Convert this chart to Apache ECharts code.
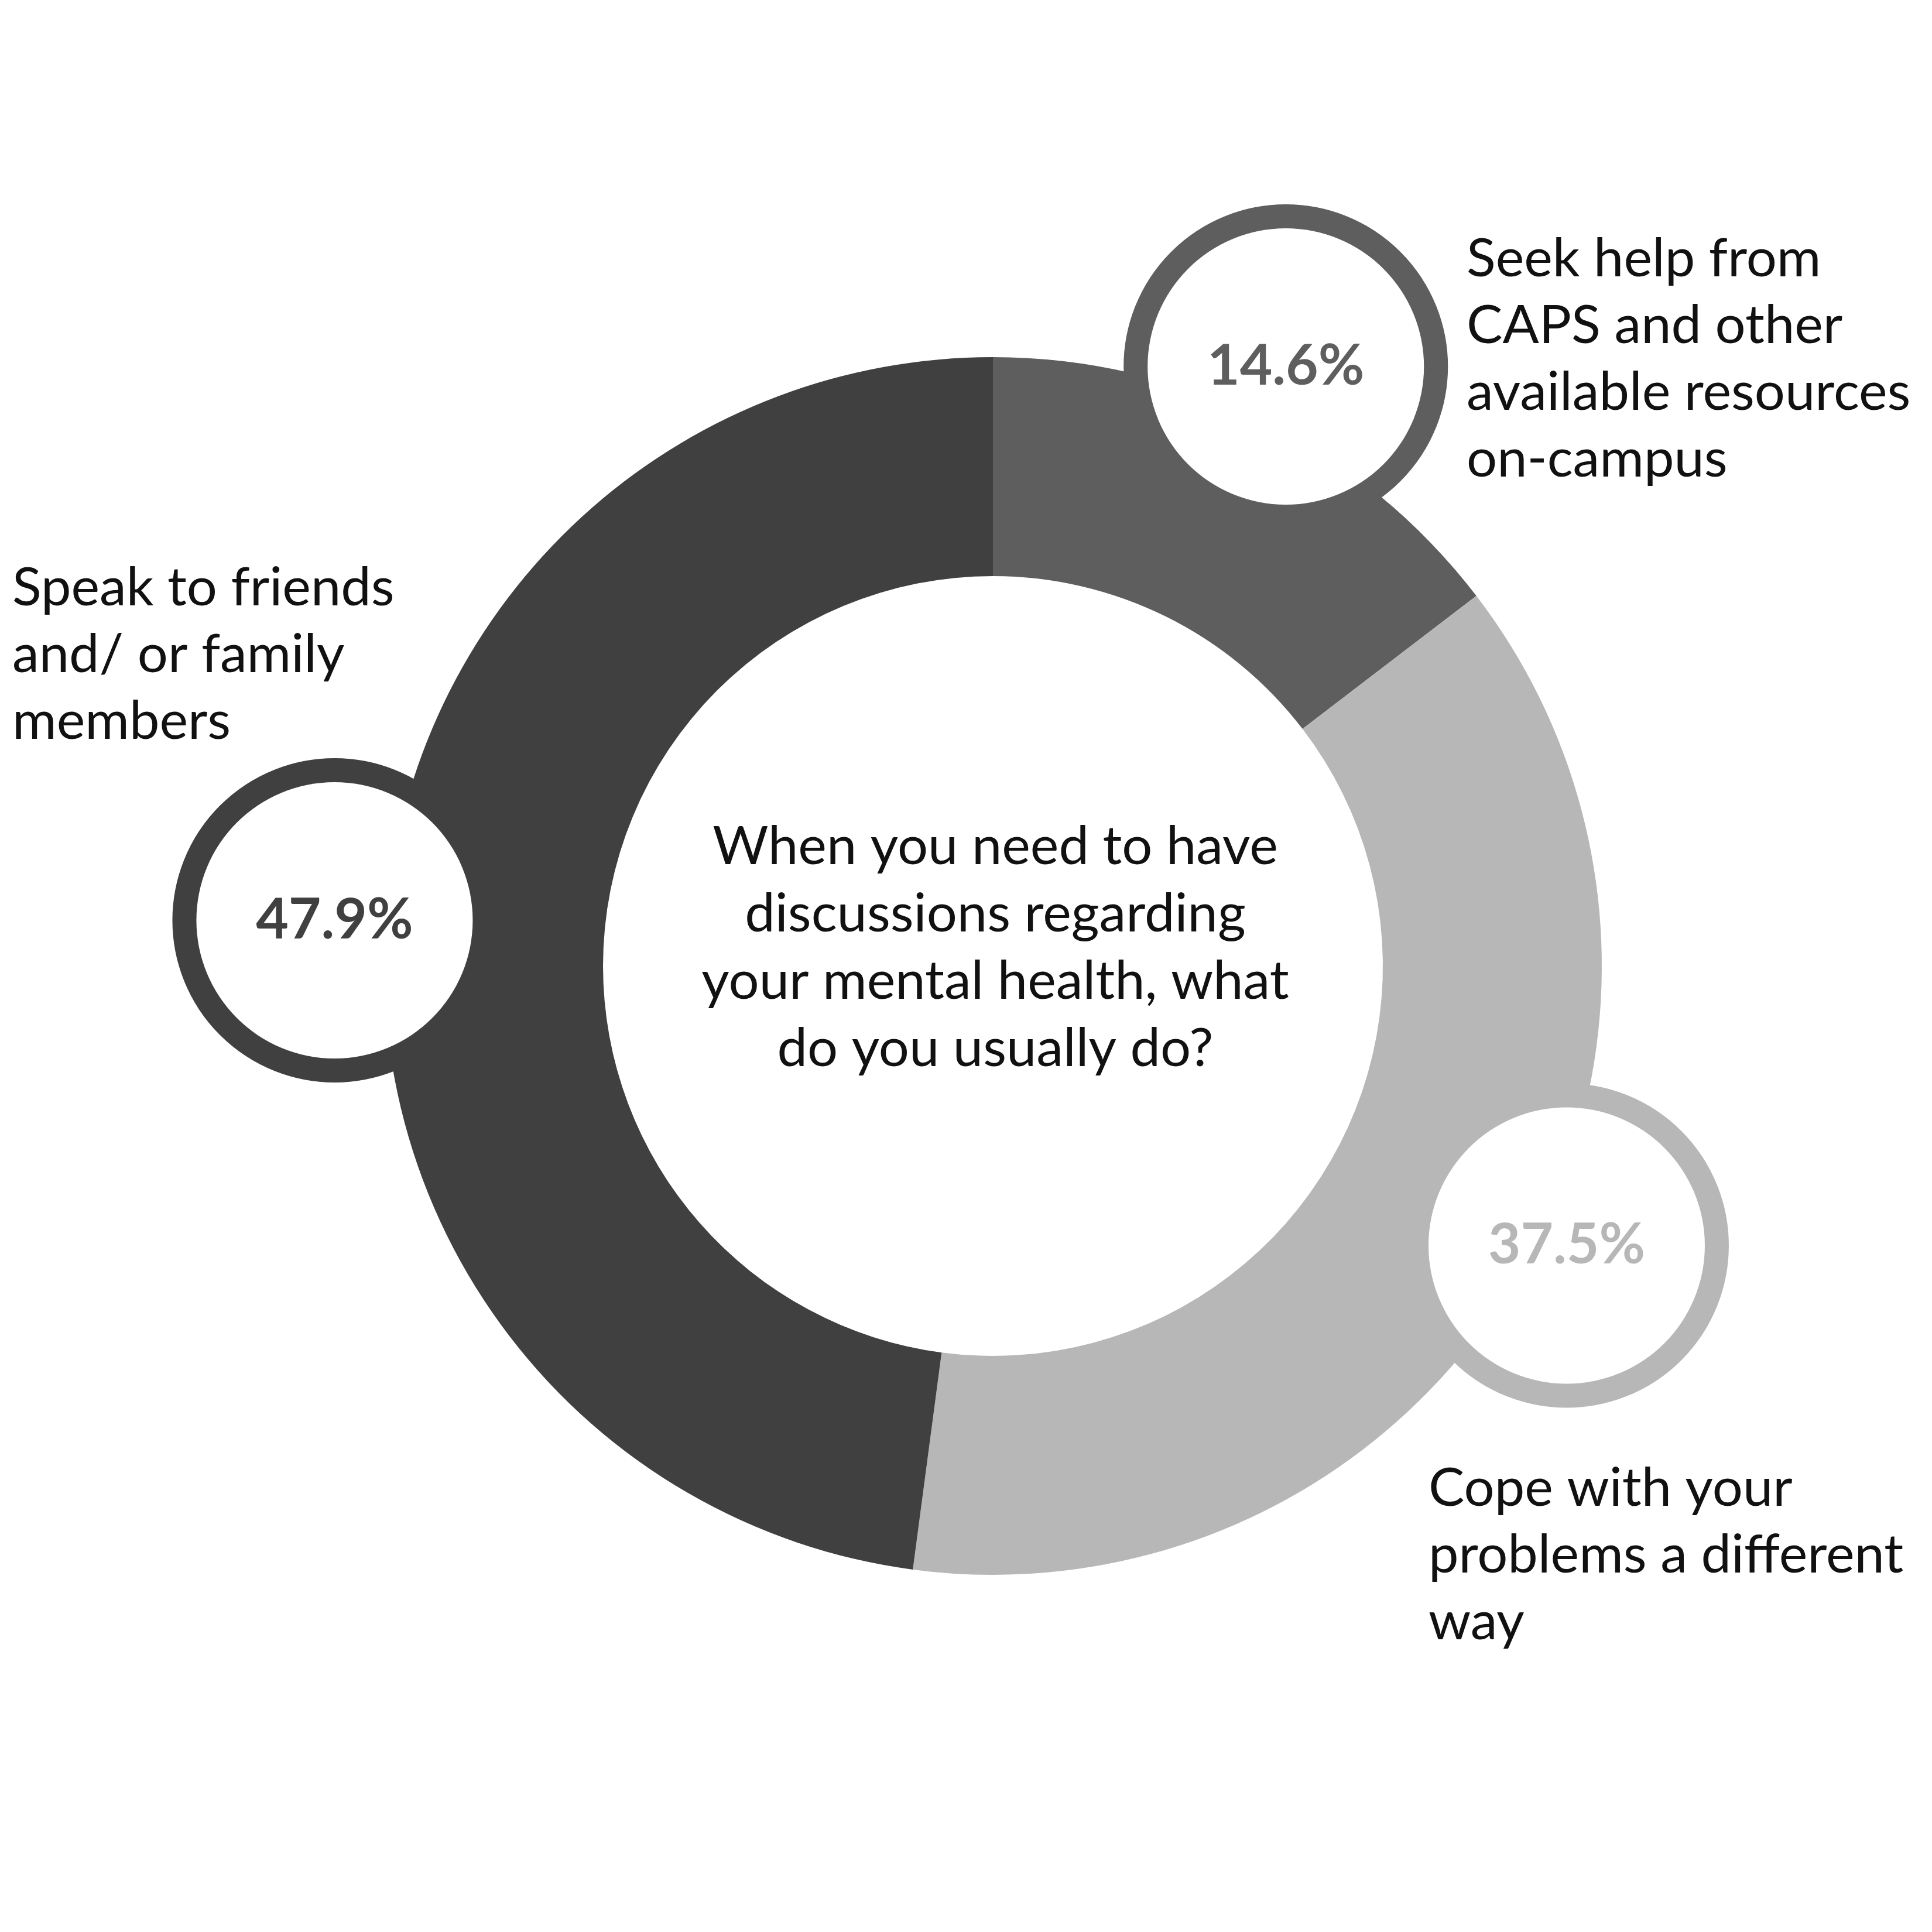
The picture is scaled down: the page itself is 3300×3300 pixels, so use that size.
<!DOCTYPE html>
<html>
<head>
<meta charset="utf-8">
<script src="https://cdn.jsdelivr.net/npm/echarts@6/dist/echarts.min.js"></script>
<style>
html,body{margin:0;padding:0;background:#fff;}
#chart{width:3300px;height:3300px;}
</style>
</head>
<body>
<div id="chart"></div>
<script>
// ---- data ----
const categories = [
  'Seek help from\nCAPS and other\navailable resources\non-campus',
  'Cope with your\nproblems a different\nway',
  'Speak to friends\nand/ or family\nmembers'
];
const values = [14.6, 37.5, 47.9];
const colors = ['#5e5e5e', '#b7b7b7', '#404040'];
const question = 'When you need to have\ndiscussions regarding\nyour mental health, what\ndo you usually do?';

// ---- styling / layout ----
const FONT = 'Lato';
const CENTER = [1696, 1650];
const circleNudge = [[3, -17], [8, -85], [-4, -4]];
const catPos = [
  { left: 2505, top: 385 },
  { left: 2440, top: 2485 },
  { left: 21, top: 947 }
];

const chart = echarts.init(document.getElementById('chart'), null, { renderer: 'canvas' });

const titles = categories.map((c, i) => ({
  text: c,
  left: catPos[i].left,
  top: catPos[i].top,
  padding: 0,
  textStyle: { fontFamily: FONT, fontWeight: 'normal', fontSize: 92, lineHeight: 114, color: '#111' }
}));
titles.push({
  text: question,
  left: 1700,
  top: 1389,
  padding: 0,
  textAlign: 'center',
  textStyle: { fontFamily: FONT, fontWeight: 'normal', fontSize: 92, lineHeight: 115, color: '#111' }
});

const option = {
  backgroundColor: '#ffffff',
  animation: false,
  title: titles,
  series: [
    {
      type: 'pie',
      center: CENTER,
      radius: [666, 1040],
      startAngle: 90,
      clockwise: true,
      silent: true,
      label: { show: false },
      labelLine: { show: false },
      data: values.map((v, i) => ({ name: categories[i], value: v, itemStyle: { color: colors[i] } }))
    },
    {
      type: 'pie',
      center: CENTER,
      radius: [1105, 1135],
      startAngle: 90,
      clockwise: true,
      silent: true,
      z: 5,
      itemStyle: { color: 'rgba(0,0,0,0)' },
      labelLine: { show: false },
      label: {
        show: true,
        position: 'inside',
        formatter: p => p.value.toFixed(1) + '%',
        fontFamily: FONT,
        fontWeight: 'bold',
        fontSize: 96,
        backgroundColor: '#ffffff',
        borderWidth: 41,
        borderRadius: 260,
        width: 472,
        height: 472,
        lineHeight: 472,
        align: 'center',
        verticalAlign: 'middle'
      },
      labelLayout: p => ({ dx: circleNudge[p.dataIndex][0], dy: circleNudge[p.dataIndex][1] }),
      data: values.map((v, i) => ({
        name: categories[i],
        value: v,
        label: { color: colors[i], borderColor: colors[i] }
      }))
    }
  ]
};
chart.setOption(option);
</script>
</body>
</html>
